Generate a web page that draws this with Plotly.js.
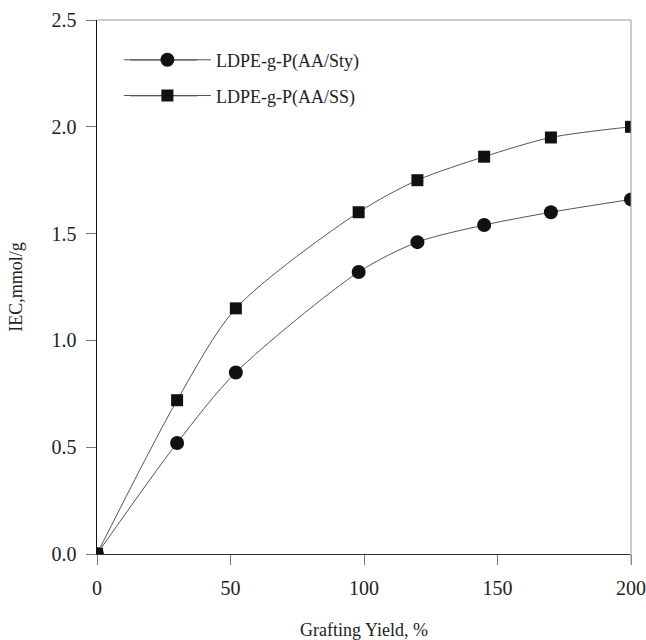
<!DOCTYPE html>
<html><head><meta charset="utf-8">
<script src="https://cdn.plot.ly/plotly-3.0.1.min.js"></script>
<style>html,body{margin:0;padding:0;background:#fff}</style>
</head><body>
<div id="chart" style="width:646px;height:640px"></div>
<script>
const graftingYield = [0, 30, 52, 98, 120, 145, 170, 200];
const iecSty = [0, 0.52, 0.85, 1.32, 1.46, 1.54, 1.60, 1.66];
const iecSS = [0, 0.72, 1.15, 1.60, 1.75, 1.86, 1.95, 2.00];
const seriesNames = ['LDPE-g-P(AA/Sty)', 'LDPE-g-P(AA/SS)'];
const xTicks = [0, 50, 100, 150, 200];
const yTicks = [0, 0.5, 1.0, 1.5, 2.0, 2.5];
const yTickText = ['0.0', '0.5', '1.0', '1.5', '2.0', '2.5'];

const font = 'Liberation Serif, Times New Roman, serif';
const traces = [
  {x: graftingYield, y: iecSty, name: seriesNames[0], mode: 'lines+markers', legend: 'legend',
   line: {color: '#555', width: 1, shape: 'spline', smoothing: 0.8},
   marker: {symbol: 'circle', size: 14, color: '#111'}},
  {x: graftingYield, y: iecSS, name: seriesNames[1], mode: 'lines+markers', legend: 'legend2',
   line: {color: '#555', width: 1, shape: 'spline', smoothing: 0.8},
   marker: {symbol: 'square', size: 12, color: '#111'}}
];
const legBase = {xanchor: 'left', yanchor: 'middle', bgcolor: 'rgba(0,0,0,0)',
  font: {family: font, size: 18, color: '#222'}, itemwidth: 87};
const layout = {
  width: 646, height: 640,
  margin: {l: 97, r: 15, t: 20, b: 86},
  paper_bgcolor: '#fff', plot_bgcolor: '#fff',
  font: {family: font, size: 18, color: '#222'},
  showlegend: true,
  legend: Object.assign({x: 0.041, y: 0.925}, legBase),
  legend2: Object.assign({x: 0.041, y: 0.858}, legBase),
  xaxis: {range: [0, 200], tickvals: xTicks, ticks: 'outside', ticklen: 10, tickcolor: '#777',
          showgrid: false, zeroline: false, showline: true, linecolor: '#333', linewidth: 1,
          ticklabelstandoff: 6,
          title: {text: 'Grafting Yield, %', font: {family: font, size: 18}, standoff: 30},
          tickfont: {family: font, size: 20}},
  yaxis: {range: [0, 2.5], tickvals: yTicks, ticktext: yTickText, ticks: 'outside', ticklen: 10, tickcolor: '#777',
          showgrid: false, zeroline: false, showline: true, linecolor: '#111', linewidth: 1.5,
          ticklabelstandoff: 5,
          title: {text: 'IEC,mmol/g', font: {family: font, size: 18}, standoff: 24},
          tickfont: {family: font, size: 20}},
  shapes: [
    {type: 'line', xref: 'paper', yref: 'paper', x0: 0, x1: 1, y0: 1, y1: 1, line: {color: '#999', width: 1}},
    {type: 'line', xref: 'paper', yref: 'paper', x0: 1, x1: 1, y0: -0.019, y1: 1, line: {color: '#999', width: 1}},
    {type: 'line', xref: 'paper', yref: 'paper', x0: 0.0618, x1: 0.187, y0: 0.925, y1: 0.925, line: {color: '#555', width: 1}, layer: 'below'},
    {type: 'line', xref: 'paper', yref: 'paper', x0: 0.0618, x1: 0.187, y0: 0.858, y1: 0.858, line: {color: '#555', width: 1}, layer: 'below'}
  ]
};
Plotly.newPlot('chart', traces, layout, {displayModeBar: false, staticPlot: true});
</script>
</body></html>
